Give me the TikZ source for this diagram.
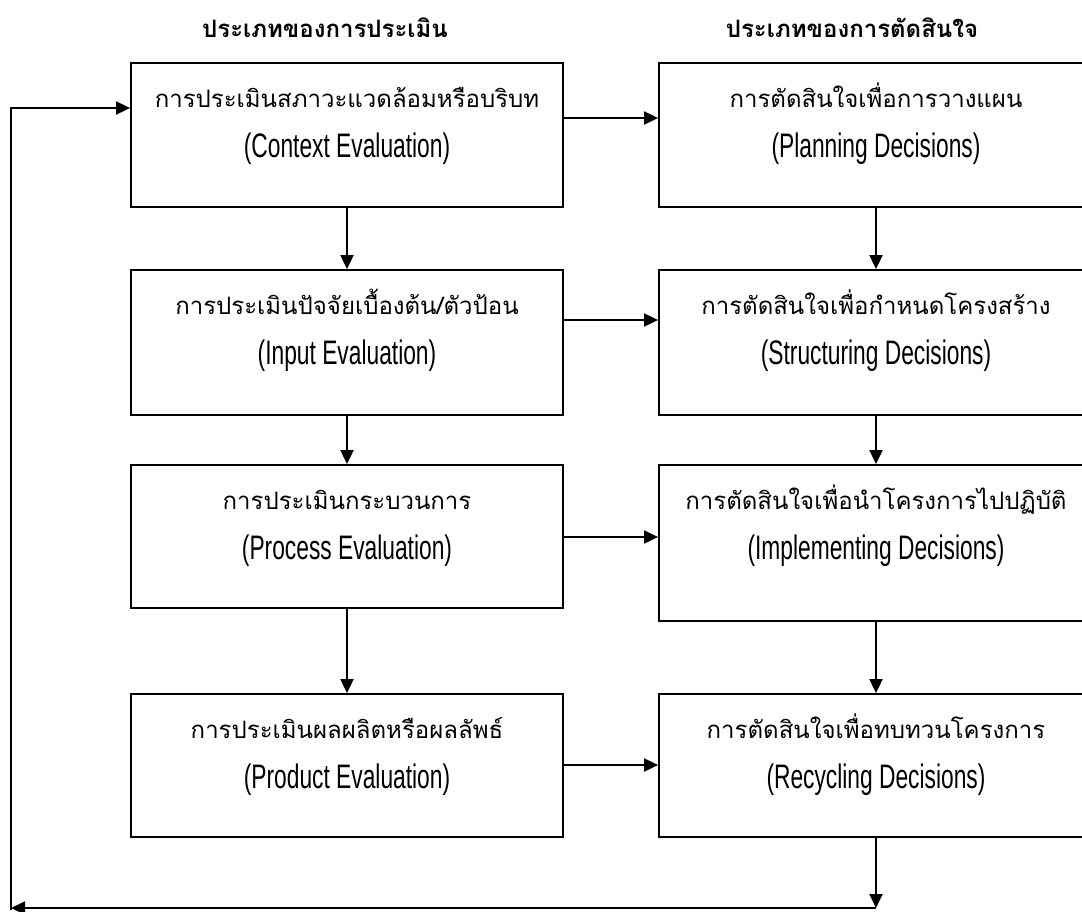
\documentclass[tikz,border=0pt]{standalone}
\usepackage{fontspec}
\usetikzlibrary{arrows.meta}
\newfontfamily\thai[Script=Thai]{Loma}
\newfontfamily\cond[FakeStretch=0.67]{Liberation Sans}
\tikzset{
  box/.style={draw, line width=1.8pt, minimum width=432pt, inner sep=0pt},
  rbox/.style={box, minimum width=434pt},
  thtext/.style={font=\thai\fontsize{24}{28}\selectfont, inner sep=0pt, anchor=base},
  entext/.style={font=\cond\fontsize{34}{40}\selectfont, inner sep=0pt, anchor=base},
  head/.style={font=\thai\bfseries\fontsize{24}{28}\selectfont, inner sep=0pt, anchor=base},
  arr/.style={line width=1.8pt, -{Triangle[length=14pt,width=13pt]}},
  ln/.style={line width=1.8pt}
}
\begin{document}
\begin{tikzpicture}[x=1pt,y=-1pt]
\useasboundingbox (0,0) rectangle (1082,911);
\clip (0,0) rectangle (1082,911);
\fill[white] (0,0) rectangle (1082,911);
% headers
\node[head] (h1) at (325,37) {ประเภทของการประเมิน};
\node[head] (h2) at (852,37) {ประเภทของการตัดสินใจ};
% left boxes
\node[box, minimum height=144pt] (ctx) at (347,135) {};
\node[box, minimum height=145pt] (inp) at (347,342.5) {};
\node[box, minimum height=143pt] (pro) at (347,536.5) {};
\node[box, minimum height=143pt] (prd) at (347,765.5) {};
% right boxes
\node[rbox, minimum height=144pt] (pla) at (876,135) {};
\node[rbox, minimum height=145pt] (str) at (876,342.5) {};
\node[rbox, minimum height=156pt] (imp) at (876,543) {};
\node[rbox, minimum height=143pt] (rec) at (876,765.5) {};
% texts
\node[thtext] (t1) at ([yshift=-45pt]ctx.north) {การประเมินสภาวะแวดล้อมหรือบริบท};
\node[entext] (e1) at ([yshift=-95pt]ctx.north) {(Context Evaluation)};
\node[thtext] (t2) at ([yshift=-45pt]inp.north) {การประเมินปัจจัยเบื้องต้น/ตัวป้อน};
\node[entext] (e2) at ([yshift=-95pt]inp.north) {(Input Evaluation)};
\node[thtext] (t3) at ([yshift=-45pt]pro.north) {การประเมินกระบวนการ};
\node[entext] (e3) at ([yshift=-95pt]pro.north) {(Process Evaluation)};
\node[thtext] (t4) at ([yshift=-45pt]prd.north) {การประเมินผลผลิตหรือผลลัพธ์};
\node[entext] (e4) at ([yshift=-95pt]prd.north) {(Product Evaluation)};
\node[thtext] (t5) at ([yshift=-45pt]pla.north) {การตัดสินใจเพื่อการวางแผน};
\node[entext] (e5) at ([yshift=-95pt]pla.north) {(Planning Decisions)};
\node[thtext] (t6) at ([yshift=-45pt]str.north) {การตัดสินใจเพื่อกำหนดโครงสร้าง};
\node[entext] (e6) at ([yshift=-95pt]str.north) {(Structuring Decisions)};
\node[thtext] (t7) at ([yshift=-45pt]imp.north) {การตัดสินใจเพื่อนำโครงการไปปฏิบัติ};
\node[entext] (e7) at ([yshift=-95pt]imp.north) {(Implementing Decisions)};
\node[thtext] (t8) at ([yshift=-45pt]rec.north) {การตัดสินใจเพื่อทบทวนโครงการ};
\node[entext] (e8) at ([yshift=-95pt]rec.north) {(Recycling Decisions)};
% helper coordinates
\coordinate (y1) at (0,118);
\coordinate (y2) at (0,320);
\coordinate (y3) at (0,537);
\coordinate (y4) at (0,765);
\coordinate (fbR) at (876,908);
\coordinate (fbL) at (11,908);
\coordinate (fbT) at (11,108);
% vertical arrows
\draw[arr] (ctx.south) -- (inp.north);
\draw[arr] (inp.south) -- (pro.north);
\draw[arr] (pro.south) -- (prd.north);
\draw[arr] (pla.south) -- (str.north);
\draw[arr] (str.south) -- (imp.north);
\draw[arr] (imp.south) -- (rec.north);
% horizontal arrows
\draw[arr] (ctx.east |- y1) -- (pla.west |- y1);
\draw[arr] (inp.east |- y2) -- (str.west |- y2);
\draw[arr] (pro.east |- y3) -- (imp.west |- y3);
\draw[arr] (prd.east |- y4) -- (rec.west |- y4);
% feedback loop
\draw[arr] (rec.south) -- (fbR);
\draw[arr] (fbR) -- (fbL);
\draw[arr] ([yshift=-2pt]fbL) -- (fbT) -- (ctx.west |- fbT);
\end{tikzpicture}
\end{document}
